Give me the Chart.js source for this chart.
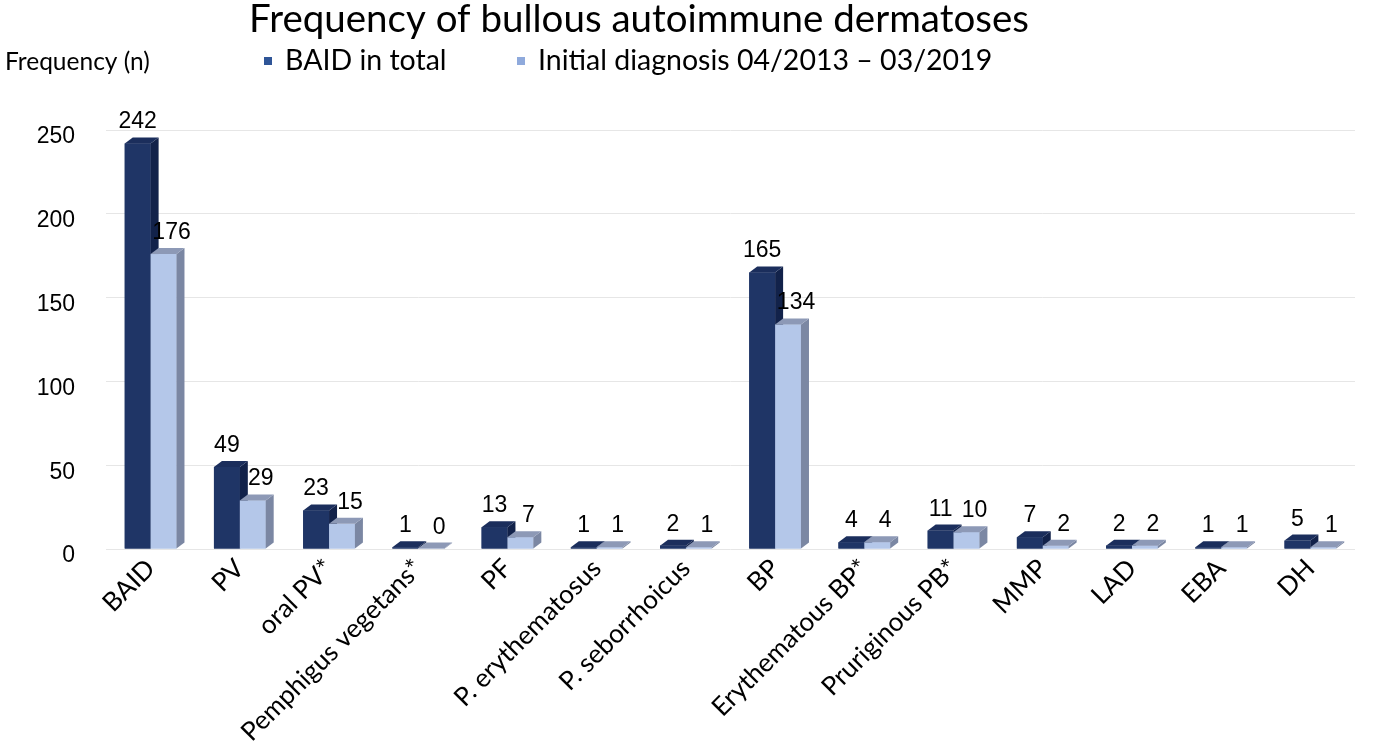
<!DOCTYPE html>
<html>
<head>
<meta charset="utf-8">
<script src="https://cdn.jsdelivr.net/npm/chart.js@4"></script>
<style>
  html, body { margin: 0; padding: 0; background: #fff; }
  canvas { display: block; }
</style>
</head>
<body>
<canvas id="chart" width="1375" height="754"></canvas>
<script>
const categories = ["BAID", "PV", "oral PV*", "Pemphigus vegetans*", "PF", "P. erythematosus",
  "P. seborrhoicus", "BP", "Erythematous BP*", "Pruriginous PB*", "MMP", "LAD", "EBA", "DH"];
const baidTotal = [242, 49, 23, 1, 13, 1, 2, 165, 4, 11, 7, 2, 1, 5];
const initialDiagnosis = [176, 29, 15, 0, 7, 1, 1, 134, 4, 10, 2, 2, 1, 1];
const seriesNames = ["BAID in total", "Initial diagnosis 04/2013 \u2013 03/2019"];
const titleText = "Frequency of bullous autoimmune dermatoses";
const yAxisText = "Frequency (n)";

// 3d look: depth of the side and top faces
const DX = 8, DY = 6;
const faces = [
  { front: "#1f3566", top: "#1b2e5c", side: "#12224a", legend: "#2f5597" },
  { front: "#b4c7e9", top: "#8d99b6", side: "#7b87a3", legend: "#8faadc" }
];
const calibriLike = "Lato, 'Open Sans', sans-serif";
const arialLike = "'Liberation Sans', Arial, sans-serif";

// BARS IN 3D + VALUE LABELS
const bars3d = {
  id: "bars3d",
  afterDatasetsDraw(chart) {
    const ctx = chart.ctx;
    const metas = chart.data.datasets.map((d, i) => chart.getDatasetMeta(i));
    ctx.save();
    for (let j = 0; j < categories.length; j++) {
      metas.forEach((meta, i) => {
        const bar = meta.data[j];
        const f = faces[i];
        const l = bar.x - bar.width / 2, r = bar.x + bar.width / 2;
        const t = Math.min(bar.y, bar.base - 0.5), b = bar.base;

        ctx.fillStyle = f.front;
        ctx.fillRect(l, t, r - l, b - t);

        ctx.fillStyle = f.side;
        ctx.beginPath();
        ctx.moveTo(r, b);
        ctx.lineTo(r + DX, b - DY);
        ctx.lineTo(r + DX, t - DY);
        ctx.lineTo(r, t);
        ctx.closePath();
        ctx.fill();

        ctx.fillStyle = f.top;
        ctx.beginPath();
        ctx.moveTo(l, t);
        ctx.lineTo(r, t);
        ctx.lineTo(r + DX, t - DY);
        ctx.lineTo(l + DX, t - DY);
        ctx.closePath();
        ctx.fill();
      });
    }

    ctx.fillStyle = "#000";
    ctx.font = "23px " + arialLike;
    ctx.textAlign = "center";
    ctx.textBaseline = "alphabetic";
    metas.forEach((meta, i) => {
      const values = chart.data.datasets[i].data;
      meta.data.forEach((bar, j) => {
        let x = bar.x + (i === 1 ? 8 : 0);
        ctx.fillText(String(values[j]), x, bar.y - 15);
      });
    });
    ctx.restore();
  }
};

// TITLE, AXIS NAME, LEGEND
const header = {
  id: "header",
  afterDraw(chart) {
    const ctx = chart.ctx;
    ctx.save();
    ctx.fillStyle = "#000";
    ctx.textBaseline = "alphabetic";

    ctx.font = "38.5px " + calibriLike;
    ctx.textAlign = "center";
    ctx.fillText(titleText, 639, 32);

    ctx.font = "24.5px " + calibriLike;
    ctx.textAlign = "left";
    ctx.fillText(yAxisText, 5, 70);

    const starts = [264, 517];
    ctx.font = "28.5px " + calibriLike;
    seriesNames.forEach((name, i) => {
      ctx.fillStyle = faces[i].legend;
      ctx.fillRect(starts[i], 57, 8, 8);
      ctx.fillStyle = "#000";
      ctx.fillText(name, starts[i] + 21, 70);
    });
    ctx.restore();
  }
};

new Chart(document.getElementById("chart"), {
  type: "bar",
  data: {
    labels: categories,
    datasets: [
      { label: seriesNames[0], data: baidTotal, backgroundColor: faces[0].front },
      { label: seriesNames[1], data: initialDiagnosis, backgroundColor: faces[1].front }
    ]
  },
  options: {
    responsive: false,
    animation: false,
    devicePixelRatio: 1,
    categoryPercentage: 0.58,
    barPercentage: 1,
    layout: { padding: { top: 130, right: 20, left: 0, bottom: 0 } },
    plugins: {
      legend: { display: false },
      title: { display: false },
      tooltip: { enabled: false }
    },
    scales: {
      x: {
        grid: { display: false, drawTicks: false },
        border: { display: false },
        ticks: {
          autoSkip: false,
          minRotation: 45,
          maxRotation: 45,
          padding: 4,
          color: "#000",
          font: { family: calibriLike, size: 26 }
        },
        afterFit(scale) { scale.height = 205; }
      },
      y: {
        min: 0,
        max: 250,
        grid: { color: "#e6e6e6", drawTicks: false },
        border: { display: false },
        ticks: {
          stepSize: 50,
          padding: 31,
          labelOffset: 7,
          color: "#000",
          font: { family: arialLike, size: 23 }
        },
        afterFit(scale) { scale.width = 106; }
      }
    }
  },
  plugins: [bars3d, header]
});
</script>
</body>
</html>
